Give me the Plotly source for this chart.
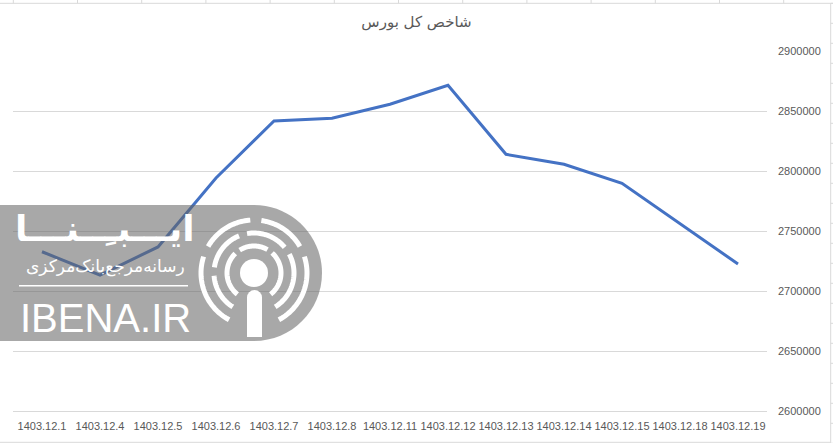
import numpy as np
import plotly.graph_objects as go

categories = ["1403.12.1", "1403.12.4", "1403.12.5", "1403.12.6", "1403.12.7",
              "1403.12.8", "1403.12.11", "1403.12.12", "1403.12.13", "1403.12.14",
              "1403.12.15", "1403.12.18", "1403.12.19"]
index_values = [2732700, 2713300, 2736700, 2794200, 2841700, 2843900, 2855600,
                2871400, 2813900, 2805600, 2789700, 2755800, 2722500]
y_ticks = [2600000, 2650000, 2700000, 2750000, 2800000, 2850000, 2900000]
title_text = "شاخص کل بورس"

W, H = 833, 443
ML, MR, MT, MB = 13, 66, 51, 32
PW, PH = W - ML - MR, H - MT - MB


def px(x):
    return (x - ML) / PW


def py(y):
    return (H - MB - y) / PH


fig = go.Figure()
fig.add_trace(go.Scatter(x=categories, y=index_values, mode="lines",
                         line=dict(color="#4472C4", width=3), hoverinfo="x+y"))

shapes = []
grid = "#d9d9d9"
# spreadsheet cell grid peeking around the chart
shapes.append(dict(type="line", xref="paper", yref="paper", x0=px(0), x1=px(W),
                   y0=py(3.3), y1=py(3.3), line=dict(color=grid, width=1)))
for k in range(14):
    xx = 13.3 + 64.2 * k
    shapes.append(dict(type="line", xref="paper", yref="paper", x0=px(xx), x1=px(xx),
                       y0=py(0), y1=py(3.3), line=dict(color=grid, width=1)))
shapes.append(dict(type="line", xref="paper", yref="paper", x0=px(830.7), x1=px(830.7),
                   y0=py(3.3), y1=py(H), line=dict(color=grid, width=1)))
for k in range(23):
    yy = 3.3 + 20 * k
    shapes.append(dict(type="line", xref="paper", yref="paper", x0=px(830.7), x1=px(W),
                       y0=py(yy), y1=py(yy), line=dict(color=grid, width=1)))
shapes.append(dict(type="line", xref="paper", yref="paper", x0=px(0), x1=px(830.7),
                   y0=py(442.3), y1=py(442.3), line=dict(color=grid, width=1)))

# watermark banner (rounded right end)
cx, cy, R = 254, 273, 68
k = 0.5523 * R
pts = [("M", [(0, cy - R)]), ("L", [(cx, cy - R)]),
       ("C", [(cx + k, cy - R), (cx + R, cy - k), (cx + R, cy)]),
       ("C", [(cx + R, cy + k), (cx + k, cy + R), (cx, cy + R)]),
       ("L", [(0, cy + R)])]
path = ""
for cmd, ps in pts:
    path += cmd + " ".join(f"{px(a):.5f},{py(b):.5f}" for a, b in ps)
path += "Z"
shapes.append(dict(type="path", xref="paper", yref="paper", path=path,
                   fillcolor="rgba(100,100,100,0.56)", line=dict(width=0), layer="above"))


def arc_path(r, a0, a1):
    t = np.radians(np.linspace(a0, a1, 30))
    xs = cx + r * np.cos(t)
    ys = cy - r * np.sin(t)
    return "M" + " L".join(f"{px(a):.5f},{py(b):.5f}" for a, b in zip(xs, ys))


rings = {
    53: [(-62, 18), (30, 82), (94, 150), (162, 242)],
    40: [(-58, 28), (40, 100), (112, 172), (184, 238)],
    27: [(-52, 48), (60, 122), (134, 232)],
}
for r, segs in rings.items():
    for a0, a1 in segs:
        shapes.append(dict(type="path", xref="paper", yref="paper", path=arc_path(r, a0, a1),
                           line=dict(color="white", width=5), layer="above"))
shapes.append(dict(type="circle", xref="paper", yref="paper", x0=px(cx - 14), x1=px(cx + 14),
                   y0=py(cy - 14), y1=py(cy + 14), fillcolor="white",
                   line=dict(width=0), layer="above"))
shapes.append(dict(type="rect", xref="paper", yref="paper", x0=px(247), x1=px(262),
                   y0=py(297), y1=py(337), fillcolor="white", line=dict(width=0), layer="above"))
shapes.append(dict(type="circle", xref="paper", yref="paper", x0=px(247), x1=px(262),
                   y0=py(290), y1=py(305), fillcolor="white", line=dict(width=0), layer="above"))
shapes.append(dict(type="line", xref="paper", yref="paper", x0=px(19), x1=px(188),
                   y0=py(285.7), y1=py(285.7), line=dict(color="white", width=1.5), layer="above"))

annotations = [
    dict(text="<b>ایـــبـِــنـــا</b>", xref="paper", yref="paper", x=px(105), y=py(228),
         xanchor="center", yanchor="middle", showarrow=False,
         font=dict(family="DejaVu Sans", size=36, color="white")),
    dict(text="رسانه‌مرجع‌بانک‌مرکزی", xref="paper", yref="paper", x=px(105), y=py(266),
         xanchor="center", yanchor="middle", showarrow=False,
         font=dict(family="DejaVu Sans", size=17, color="white")),
    dict(text="IBENA.IR", xref="paper", yref="paper", x=px(105), y=py(318),
         xanchor="center", yanchor="middle", showarrow=False,
         font=dict(family="Liberation Sans", size=40, color="white")),
]

fig.update_layout(
    width=W, height=H,
    margin=dict(l=ML, r=MR, t=MT, b=MB),
    paper_bgcolor="white", plot_bgcolor="white",
    showlegend=False,
    title=dict(text=title_text, x=0.5, xanchor="center", y=1 - 22 / H, yanchor="middle",
               font=dict(family="DejaVu Sans", size=15, color="#595959")),
    xaxis=dict(type="category", showgrid=False, showline=True, linecolor=grid, linewidth=1,
               ticks="", ticklabelstandoff=5,
               tickfont=dict(family="Liberation Sans", size=11, color="#595959"),
               range=[-0.5, len(categories) - 0.5], fixedrange=True),
    yaxis=dict(side="right", range=[y_ticks[0], y_ticks[-1]], tickvals=y_ticks,
               ticktext=[str(v) for v in y_ticks], showgrid=True, gridcolor=grid,
               gridwidth=1, zeroline=False, showline=False, ticks="",
               ticklabelstandoff=10,
               tickfont=dict(family="Liberation Sans", size=11, color="#595959")),
    shapes=shapes,
    annotations=annotations,
)

fig.write_html("out.html", config={"displayModeBar": False},
               post_script="document.body.style.margin='0';document.body.style.overflow='hidden';")
